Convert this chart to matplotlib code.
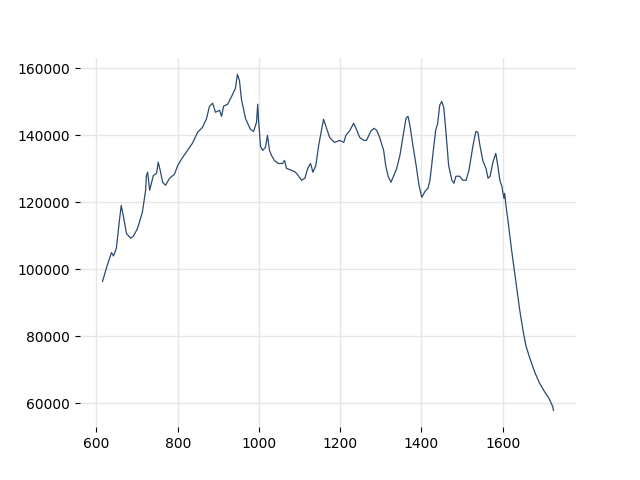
import matplotlib
matplotlib.use("Agg")
import matplotlib.pyplot as plt

# wavelength-like x values and counts
x_vals = [615, 626, 637, 642, 649, 656, 661, 666, 674, 684, 691, 701, 713, 721, 723, 726,
          731, 740, 748, 752, 757, 763, 770, 780, 792, 800, 812, 824, 836, 849, 861,
          871, 878, 886, 893, 903, 908, 913, 923, 933, 942, 947, 952, 957, 967, 979,
          987, 994, 997, 999, 1004, 1009, 1016, 1021, 1026, 1031, 1038, 1048, 1058,
          1063, 1068, 1080, 1090, 1098, 1105, 1113, 1120, 1127, 1133, 1140, 1147,
          1154, 1159, 1164, 1174, 1186, 1199, 1209, 1214, 1224, 1233, 1238, 1248,
          1258, 1265, 1275, 1283, 1290, 1297, 1307, 1312, 1318, 1325, 1332, 1339,
          1347, 1354, 1362, 1367, 1372, 1379, 1387, 1394, 1401, 1409, 1416, 1421,
          1428, 1435, 1440, 1445, 1450, 1455, 1460, 1467, 1475, 1480, 1485, 1494,
          1502, 1510, 1517, 1527, 1534, 1539, 1544, 1551, 1559, 1564, 1569, 1576,
          1583, 1588, 1593, 1598, 1603, 1605, 1608, 1613, 1622, 1632, 1642, 1650,
          1657, 1667, 1680, 1691, 1704, 1714, 1723, 1725]
y_vals = [96400, 101000, 105000, 104000, 106300, 114000, 119100, 116000, 110700, 109300,
          109900, 112200, 117000, 123600, 128000, 129000, 123600, 128000, 128700,
          132000, 129500, 126000, 125100, 127200, 128400, 131000, 133400, 135500,
          137600, 140900, 142400, 145000, 148600, 149600, 146900, 147500, 145700,
          148700, 149300, 151700, 154000, 158200, 156400, 150700, 145000, 141800,
          141200, 143900, 149300, 144500, 136700, 135500, 136400, 140000, 135500,
          134000, 132500, 131600, 131600, 132500, 130100, 129600, 129000, 127800,
          126600, 127200, 130100, 131600, 129000, 131000, 137000, 141500, 144800,
          143000, 139400, 137900, 138500, 137900, 140000, 141500, 143600, 142400,
          139400, 138500, 138500, 141200, 142100, 141500, 139400, 135500, 131000,
          127800, 126000, 128000, 130100, 134000, 139100, 145100, 145700, 142700,
          137000, 131000, 125100, 121500, 123300, 124200, 126600, 134000, 141500,
          143600, 149000, 150100, 148300, 141500, 131000, 126600, 125700, 127800,
          127800, 126600, 126600, 129600, 137000, 141200, 140900, 137000, 132500,
          130100, 127200, 127800, 132000, 134600, 131000, 126600, 124800, 121200,
          122700, 119100, 114600, 105700, 96700, 87800, 81800, 77300, 73400, 69000,
          66000, 63300, 61500, 59100, 57900]

fig, ax = plt.subplots(figsize=(6.4, 4.8), dpi=100)
ax.plot(x_vals, y_vals, color='#2b4a6f', linewidth=0.9)
ax.grid(True, color='#e6e6e6', linewidth=1)
ax.set_axisbelow(True)
for s in ax.spines.values():
    s.set_visible(False)
ax.set_xticks([600, 800, 1000, 1200, 1400, 1600])
ax.set_yticks([60000, 80000, 100000, 120000, 140000, 160000])
fig.savefig('out.png')
